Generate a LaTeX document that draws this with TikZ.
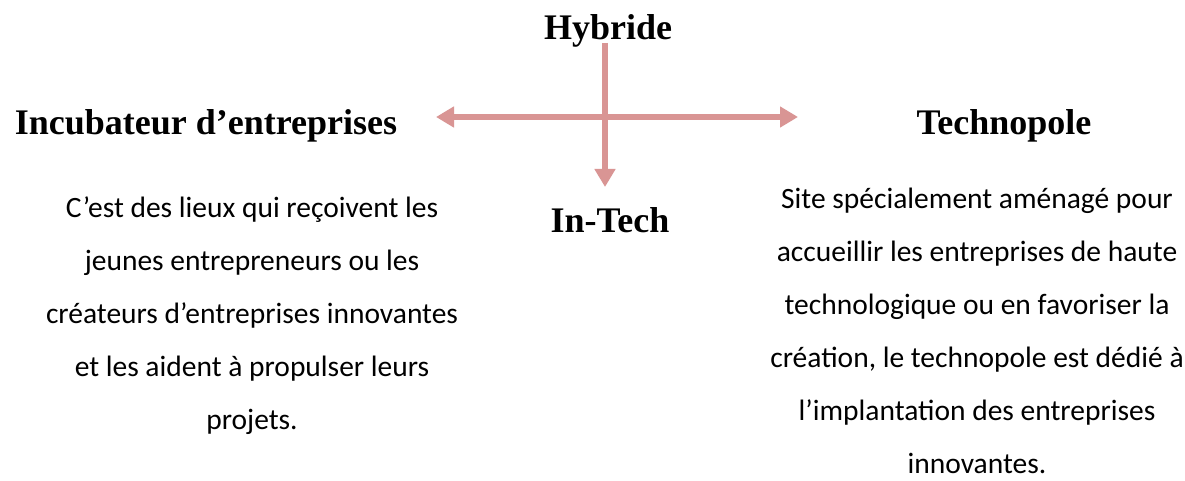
\documentclass[tikz,border=0pt]{standalone}
\usepackage{fontspec}
\setmainfont{Liberation Serif}
\newfontfamily\bodyfont{Carlito}
\usetikzlibrary{arrows.meta}
\definecolor{crossrose}{HTML}{D99594}
\definecolor{inkfg}{HTML}{000000}

\begin{document}
\begin{tikzpicture}[x=1pt,y=-1pt,>={Triangle[width=20pt,length=18pt]}]
  \tikzstyle{title}=[font=\fontsize{36}{40}\selectfont\bfseries, text=inkfg, inner sep=0pt, anchor=base]
  \tikzstyle{body}=[font=\bodyfont\fontsize{29.5}{53}\selectfont, text=inkfg, align=center, inner sep=0pt, anchor=base]
  \tikzstyle{crossarrow}=[draw=crossrose, line width=6.5pt]

  \path[use as bounding box, fill=white] (0,0) rectangle (1185,481);

  % Four labels around the cross.
  \node[title] (hybride) at (608,40) {Hybride};
  \node[title] (incub) at (206,135) {Incubateur d’entreprises};
  \node[title] (techno) at (1004,135) {Technopole};
  \node[title] (intech) at (610,232) {In-Tech};

  % The cross itself: free ends are named points.
  \coordinate (lefttip) at (436,117);
  \coordinate (righttip) at (798,117);
  \coordinate (toptip) at (605,43);
  \coordinate (bottomtip) at (605,187);
  \draw[crossarrow,<->] (lefttip) -- (righttip);
  \draw[crossarrow,->] (toptip) -- (bottomtip);

  % Descriptions under the side labels (base = last line).
  \node[body] (incubtext) at (252,429) {C’est des lieux qui reçoivent les\\
    jeunes entrepreneurs ou les\\
    créateurs d’entreprises innovantes\\
    et les aident à propulser leurs\\
    projets.};
  \node[body] (technotext) at (977,473) {Site spécialement aménagé pour\\
    accueillir les entreprises de haute\\
    technologique ou en favoriser la\\
    création, le technopole est dédié à\\
    l’implantation des entreprises\\
    innovantes.};
\end{tikzpicture}
\end{document}
